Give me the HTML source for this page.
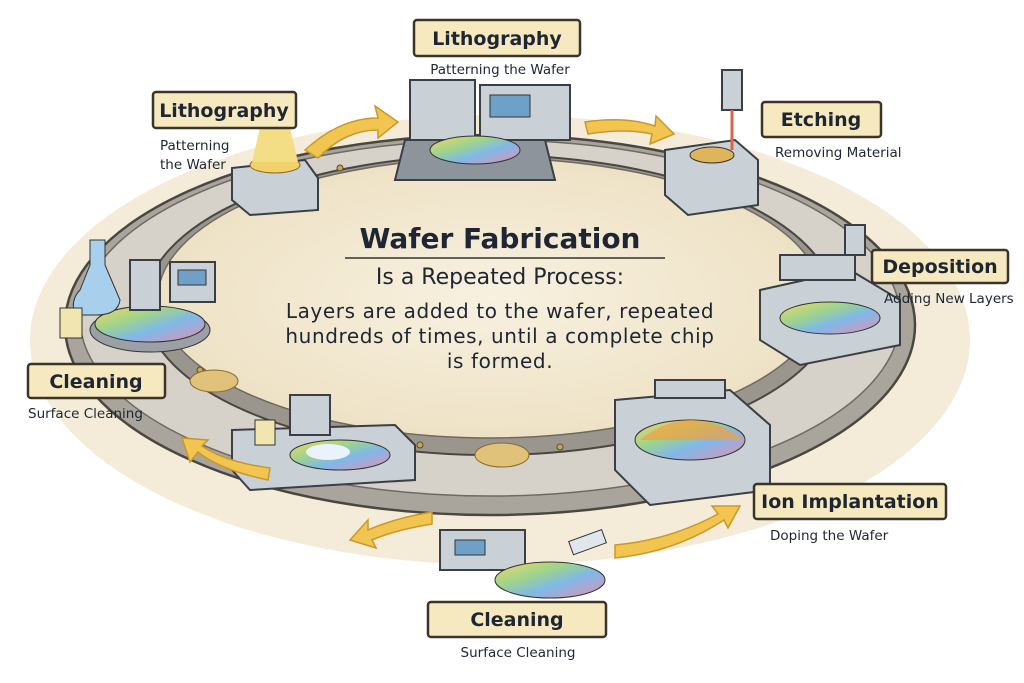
<!DOCTYPE html>
<html><head><meta charset="utf-8"><style>
html,body{margin:0;padding:0;background:#fff;}
svg{display:block}
text{font-family:"DejaVu Sans","Liberation Sans",sans-serif;fill:#1f2633}
.lb{fill:#f6e9bf;stroke:#3a3528;stroke-width:2.5}
.t{font-weight:bold;font-size:19px}
.s{font-size:13.5px}
.m{fill:#c9d0d6;stroke:#3b3f45;stroke-width:2}
.md{fill:#8d949b;stroke:#3b3f45;stroke-width:2}
.ar{fill:#f1c550;stroke:#c9982a;stroke-width:1.5}
</style></head><body>
<svg width="1024" height="683" viewBox="0 0 1024 683">
<defs>
<linearGradient id="w" x1="0" x2="1" y1="0" y2="1">
<stop offset="0" stop-color="#f5d36a"/><stop offset=".35" stop-color="#9fd48a"/><stop offset=".6" stop-color="#7fb8e8"/><stop offset="1" stop-color="#e88fb0"/>
</linearGradient>
<radialGradient id="floor" cx=".5" cy=".5" r=".6"><stop offset="0" stop-color="#f8f1e0"/><stop offset="1" stop-color="#ecdfc0"/></radialGradient>
</defs>
<ellipse cx="500" cy="340" rx="470" ry="225" fill="#efe4c8" opacity=".7"/>
<ellipse cx="490" cy="325" rx="425" ry="190" fill="#a9a59c" stroke="#4a4740" stroke-width="2.5"/>
<ellipse cx="490" cy="318" rx="410" ry="178" fill="#d6d2c9" stroke="#6d6a63" stroke-width="1.5"/>
<ellipse cx="490" cy="305" rx="345" ry="150" fill="#9a968e" stroke="#4a4740" stroke-width="2"/>
<ellipse cx="490" cy="298" rx="332" ry="140" fill="url(#floor)" stroke="#6d6a63" stroke-width="1.5"/>
<g fill="#c7a75a" stroke="#5a4a2a">
<circle cx="300" cy="176" r="3"/><circle cx="340" cy="168" r="3"/><circle cx="700" cy="180" r="3"/><circle cx="740" cy="196" r="3"/>
<circle cx="330" cy="430" r="3"/><circle cx="420" cy="445" r="3"/><circle cx="560" cy="447" r="3"/><circle cx="640" cy="438" r="3"/>
<circle cx="200" cy="370" r="3"/><circle cx="800" cy="360" r="3"/>
</g>
<ellipse cx="214" cy="381" rx="24" ry="11" fill="#e0c27a" stroke="#8a6a2a"/>
<ellipse cx="502" cy="455" rx="27" ry="12" fill="#e0c27a" stroke="#8a6a2a"/>

<text x="500" y="248" text-anchor="middle" font-weight="bold" font-size="28">Wafer Fabrication</text>
<line x1="345" y1="258" x2="665" y2="258" stroke="#333" stroke-width="1.5"/>
<text x="500" y="284" text-anchor="middle" font-size="22">Is a Repeated Process:</text>
<text x="500" y="318" text-anchor="middle" font-size="20" letter-spacing=".6">Layers are added to the wafer, repeated</text>
<text x="500" y="343" text-anchor="middle" font-size="20" letter-spacing=".6">hundreds of times, until a complete chip</text>
<text x="500" y="368" text-anchor="middle" font-size="20" letter-spacing=".6">is formed.</text>

<path class="md" d="M405 140 L545 140 L555 180 L395 180Z"/>
<path class="m" d="M410 80 L475 80 L475 140 L410 140Z"/>
<rect class="m" x="480" y="85" width="90" height="55"/>
<rect x="490" y="95" width="40" height="22" fill="#6fa0c8" stroke="#333"/>
<ellipse cx="475" cy="150" rx="45" ry="14" fill="url(#w)" stroke="#333"/>
<path class="m" d="M232 168 L305 160 L318 178 L318 210 L250 215 L232 200Z"/>
<ellipse cx="275" cy="165" rx="25" ry="8" fill="#f1d26a" stroke="#8a6a2a"/>
<path d="M260 128 L290 128 L298 162 L252 162Z" fill="#f3dd85"/>
<path class="m" d="M665 150 L735 140 L758 160 L758 205 L688 215 L665 195Z"/>
<ellipse cx="712" cy="155" rx="22" ry="8" fill="#e0b45a" stroke="#333"/>
<rect class="m" x="722" y="70" width="20" height="40"/>
<line x1="732" y1="110" x2="732" y2="150" stroke="#e0604a" stroke-width="3"/>
<path class="m" d="M760 290 L850 270 L900 300 L900 345 L800 365 L760 340Z"/>
<ellipse cx="830" cy="318" rx="50" ry="16" fill="url(#w)" stroke="#333"/>
<rect class="m" x="780" y="255" width="75" height="25"/>
<rect class="m" x="845" y="225" width="20" height="30"/>
<path class="m" d="M615 400 L730 390 L770 425 L770 490 L650 505 L615 470Z"/>
<ellipse cx="690" cy="440" rx="55" ry="20" fill="url(#w)" stroke="#333"/>
<path d="M640 440 Q690 400 745 440" fill="#f4a040" opacity=".7"/>
<rect class="m" x="655" y="380" width="70" height="18"/>
<rect class="m" x="440" y="530" width="85" height="40"/>
<rect x="455" y="540" width="30" height="15" fill="#6fa0c8" stroke="#333"/>
<ellipse cx="550" cy="580" rx="55" ry="18" fill="url(#w)" stroke="#333"/>
<rect x="570" y="535" width="35" height="14" fill="#dfe6ec" stroke="#333" transform="rotate(-20 588 542)"/>
<path class="m" d="M232 430 L395 425 L415 445 L415 480 L250 490 L232 470Z"/>
<ellipse cx="340" cy="455" rx="50" ry="15" fill="url(#w)" stroke="#333"/>
<ellipse cx="328" cy="452" rx="22" ry="8" fill="#eaf3fb"/>
<rect class="m" x="290" y="395" width="40" height="40"/>
<rect x="255" y="420" width="20" height="25" fill="#f1e6b0" stroke="#333"/>
<ellipse cx="150" cy="330" rx="60" ry="22" fill="#9aa0a5" stroke="#333"/>
<ellipse cx="150" cy="324" rx="55" ry="18" fill="url(#w)" stroke="#333"/>
<rect class="m" x="130" y="260" width="30" height="50"/>
<rect class="m" x="170" y="262" width="45" height="40"/>
<rect x="178" y="270" width="28" height="15" fill="#6fa0c8" stroke="#333"/>
<path d="M90 240 L105 240 L105 265 L120 300 Q118 315 96 315 L75 315 Q70 300 80 290 L90 265Z" fill="#a8d0ec" stroke="#333"/>
<rect x="60" y="308" width="22" height="30" fill="#f1e6b0" stroke="#333"/>

<path class="ar" d="M305 150 Q340 118 378 118 L375 106 L398 122 L378 138 L378 130 Q345 130 318 158Z"/>
<path class="ar" d="M585 122 Q625 116 655 126 L656 116 L674 134 L650 144 L652 134 Q625 128 588 134Z"/>
<path class="ar" d="M268 480 Q220 470 198 452 L190 462 L182 438 L208 440 L202 446 Q225 462 270 468Z"/>
<path class="ar" d="M432 524 Q395 530 372 540 L376 548 L350 540 L368 520 L368 530 Q395 518 432 512Z"/>
<path class="ar" d="M615 545 Q670 540 718 514 L712 506 L740 506 L728 528 L724 520 Q675 552 615 558Z"/>

<rect class="lb" x="414" y="20" width="166" height="36" rx="3"/>
<text class="t" x="497" y="45" text-anchor="middle">Lithography</text>
<text class="s" x="500" y="74" text-anchor="middle">Patterning the Wafer</text>

<rect class="lb" x="153" y="92" width="143" height="36" rx="3"/>
<text class="t" x="224" y="117" text-anchor="middle">Lithography</text>
<text class="s" x="160" y="150">Patterning</text>
<text class="s" x="160" y="169">the Wafer</text>

<rect class="lb" x="762" y="102" width="119" height="35" rx="3"/>
<text class="t" x="821" y="126" text-anchor="middle">Etching</text>
<text class="s" x="775" y="157">Removing Material</text>

<rect class="lb" x="872" y="250" width="136" height="33" rx="3"/>
<text class="t" x="940" y="273" text-anchor="middle">Deposition</text>
<text class="s" x="884" y="303" font-size="13">Adding New Layers</text>

<rect class="lb" x="28" y="364" width="137" height="34" rx="3"/>
<text class="t" x="96" y="388" text-anchor="middle">Cleaning</text>
<text class="s" x="28" y="418">Surface Cleaning</text>

<rect class="lb" x="754" y="484" width="192" height="35" rx="3"/>
<text class="t" x="850" y="508" text-anchor="middle">Ion Implantation</text>
<text class="s" x="770" y="540">Doping the Wafer</text>

<rect class="lb" x="428" y="602" width="178" height="35" rx="3"/>
<text class="t" x="517" y="626" text-anchor="middle">Cleaning</text>
<text class="s" x="518" y="657" text-anchor="middle">Surface Cleaning</text>
</svg>
</body></html>
